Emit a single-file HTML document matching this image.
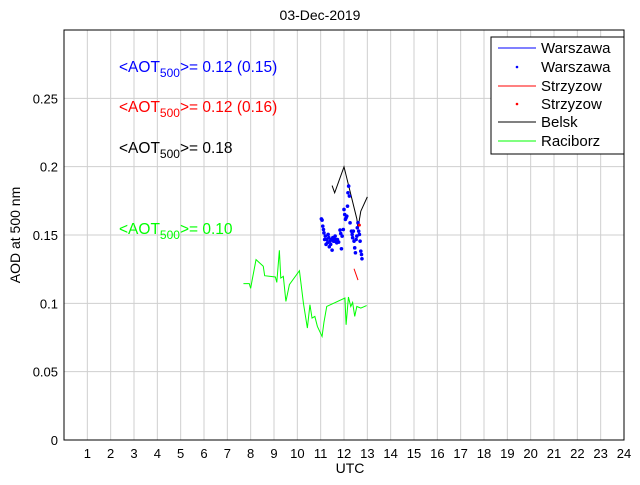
<!DOCTYPE html>
<html><head><meta charset="utf-8"><style>
body{margin:0;background:#fff}
svg{font-family:"Liberation Sans",sans-serif}
</style></head><body>
<svg id="c" width="640" height="480" xmlns="http://www.w3.org/2000/svg">
<rect width="640" height="480" fill="#fff"/>
<g id="grid"></g><g id="marks"></g><g id="axes"></g>
</svg>
<script>
const xTicks=[1,2,3,4,5,6,7,8,9,10,11,12,13,14,15,16,17,18,19,20,21,22,23,24];
const yTicks=[0,0.05,0.1,0.15,0.2,0.25];
const yTickLabels=["0","0.05","0.1","0.15","0.2","0.25"];
const racT=[7.69,7.94,8.00,8.06,8.23,8.54,8.60,9.06,9.12,9.23,9.29,9.40,9.51,9.66,10.09,10.26,10.43,10.54,10.63,10.75,10.86,11.06,11.14,11.26,12.04,12.09,12.19,12.29,12.37,12.46,12.55,12.72,12.97];
const racV=[0.1144,0.1144,0.1110,0.1167,0.1320,0.1271,0.1202,0.1193,0.1153,0.1388,0.1185,0.1197,0.1014,0.1137,0.1239,0.1002,0.0819,0.0990,0.0892,0.0904,0.0831,0.0758,0.0860,0.0977,0.1039,0.0843,0.1046,0.0977,0.1006,0.0904,0.0977,0.0965,0.0984];
const belT=[11.49,11.60,12.00,12.55,12.60,12.72,13.0];
const belV=[0.1862,0.1809,0.1999,0.1618,0.1552,0.1674,0.1779];
const warT=[11.03,11.06,11.09,11.12,11.14,11.20,11.26,11.32,11.35,11.40,11.43,11.47,11.52,11.55,11.57,11.62,11.66,11.69,11.72,11.77,11.83,11.86,11.89,11.92,11.97,12.00,12.03,12.06,12.09,12.12,12.15,12.17,12.20,12.23,12.26,12.32,12.35,12.37,12.40,12.43,12.46,12.49,12.52,12.55,12.57,12.60,12.63,12.66,12.69,12.72,12.75,12.77,11.37,11.23,11.49,11.17,11.29,11.63];
const warV=[0.1618,0.1609,0.1565,0.1540,0.1516,0.1492,0.1467,0.1504,0.1480,0.1455,0.1431,0.1467,0.1480,0.1455,0.1472,0.1492,0.1467,0.1443,0.1467,0.1448,0.1536,0.1511,0.1399,0.1492,0.1540,0.1687,0.1650,0.1614,0.1626,0.1638,0.1711,0.1809,0.1858,0.1785,0.1589,0.1528,0.1504,0.1480,0.1528,0.1455,0.1406,0.1370,0.1467,0.1492,0.1553,0.1589,0.1528,0.1504,0.1455,0.1382,0.1357,0.1326,0.1414,0.1431,0.1389,0.1467,0.1443,0.1453];
const strT=[12.43,12.60];
const strV=[0.1253,0.1170];
const strDotT=[12.66];
const strDotV=[0.1572];
const NS="http://www.w3.org/2000/svg";
const L=64,R=624,T=30,B=440;
const xs=t=>L+(t/24)*(R-L);
const ys=v=>B-(v/0.3)*(B-T);
function mk(tag,at,parent){const e=document.createElementNS(NS,tag);for(const k in at)e.setAttribute(k,at[k]);parent.appendChild(e);return e;}
const grid=document.getElementById('grid'),marks=document.getElementById('marks'),axes=document.getElementById('axes');
xTicks.forEach(t=>{const l=mk('line',{x1:xs(t),x2:xs(t),y1:T,y2:B,stroke:'#cfcfcf','stroke-width':1},grid);


const tx=mk('text',{x:xs(t),y:458,'font-size':13,'text-anchor':'middle'},axes);tx.textContent=t;

});
yTicks.forEach((v,i)=>{if(v>0){const l=mk('line',{x1:L,x2:R,y1:ys(v),y2:ys(v),stroke:'#cfcfcf','stroke-width':1},grid);

}
const tx=mk('text',{x:58,y:ys(v)+5,'font-size':13,'text-anchor':'end'},axes);tx.textContent=yTickLabels[i];

});
function line(ts,vs,color,name){const p=mk('polyline',{points:ts.map((t,i)=>xs(t)+','+ys(vs[i])).join(' '),fill:'none',stroke:color,'stroke-width':1},marks);

}
line(racT,racV,'#00ff00','raciborz-line');
line(belT,belV,'#000','belsk-line');
line(strT,strV,'#ff0000','strzyzow-line');
warT.forEach((t,i)=>{const c=mk('circle',{cx:xs(t),cy:ys(warV[i]),r:1.8,fill:'#0000ff'},marks);

});
strDotT.forEach((t,i)=>{const c=mk('circle',{cx:xs(t),cy:ys(strDotV[i]),r:1.5,fill:'#ff0000'},marks);

});
const frame=mk('rect',{x:L,y:T,width:R-L,height:B-T,fill:'none',stroke:'#000','stroke-width':1},axes);


</script>
<svg width="640" height="480" style="position:absolute;left:0;top:0">
<text x="320" y="20" font-size="14" text-anchor="middle">03-Dec-2019</text>
<text x="350" y="473" font-size="14" text-anchor="middle">UTC</text>
<text transform="translate(20,235) rotate(-90)" font-size="14" text-anchor="middle">AOD at 500 nm</text>
<g font-size="15.5">
<text x="119" y="72" fill="#0000ff">&lt;AOT<tspan font-size="12" dy="5">500</tspan><tspan dy="-5">&gt;= 0.12 (0.15)</tspan></text>
<text x="119" y="112" fill="#ff0000">&lt;AOT<tspan font-size="12" dy="5">500</tspan><tspan dy="-5">&gt;= 0.12 (0.16)</tspan></text>
<text x="119" y="153" fill="#000">&lt;AOT<tspan font-size="12" dy="5">500</tspan><tspan dy="-5">&gt;= 0.18</tspan></text>
<text x="119" y="234" fill="#00ff00">&lt;AOT<tspan font-size="12" dy="5">500</tspan><tspan dy="-5">&gt;= 0.10</tspan></text>
</g>
<g>
<rect x="491" y="37" width="133" height="117" fill="#fff" stroke="#000"/>
<g font-size="15">
<line x1="498" x2="536" y1="48" y2="48" stroke="#0000ff"/><text x="541" y="53">Warszawa</text>
<circle cx="517" cy="67" r="1.3" fill="#0000ff"/><text x="541" y="72">Warszawa</text>
<line x1="498" x2="536" y1="86" y2="86" stroke="#ff0000"/><text x="541" y="91">Strzyzow</text>
<circle cx="517" cy="104" r="1.3" fill="#ff0000"/><text x="541" y="109">Strzyzow</text>
<line x1="498" x2="536" y1="122" y2="122" stroke="#000"/><text x="541" y="127">Belsk</text>
<line x1="498" x2="536" y1="141" y2="141" stroke="#00ff00"/><text x="541" y="146">Raciborz</text>
</g></g>
</svg>
</body></html>
